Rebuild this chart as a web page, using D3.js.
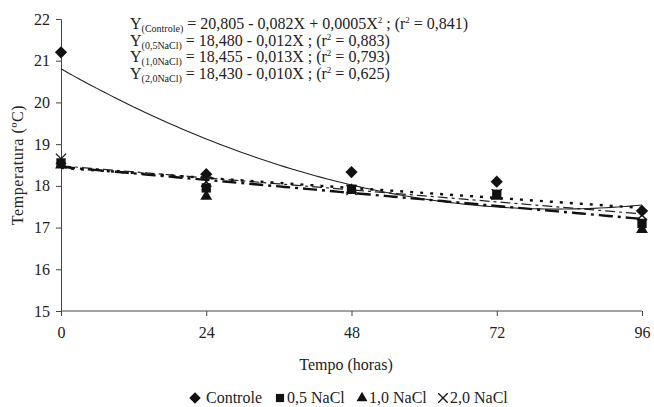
<!DOCTYPE html>
<html>
<head>
<meta charset="utf-8">
<script src="https://cdn.jsdelivr.net/npm/d3@7"></script>
<style>
  body { margin: 0; background: #fff; }
  svg text { font-family: "Liberation Serif", "Times New Roman", serif !important; fill: #222; }
</style>
</head>
<body>
<script>
// tempo (horas)
var hours = [0, 24, 48, 72, 96];
var controle = [21.2, 18.28, 18.33, 18.1, 17.4];
var nacl05 = [18.55, 17.95, 17.92, 17.8, 17.1];
var nacl10 = [18.5, 17.75, 17.9, 17.75, 16.95];
var nacl20 = [18.65, 18.1, 17.9, 17.8, 17.3];
var yTicks = [15, 16, 17, 18, 19, 20, 21, 22];
// coeficientes das regressoes (a + bX + cX^2)
var coefControle = [20.805, -0.082, 0.0005];
var coef05 = [18.480, -0.012, 0];
var coef10 = [18.455, -0.013, 0];
var coef20 = [18.430, -0.010, 0];
var eqText = [
  ["(Controle)", " = 20,805 - 0,082X + 0,0005X", "2", " ; (r", "2", " = 0,841)"],
  ["(0,5NaCl)", " = 18,480 - 0,012X ; (r", "2", " = 0,883)"],
  ["(1,0NaCl)", " = 18,455 - 0,013X ; (r", "2", " = 0,793)"],
  ["(2,0NaCl)", " = 18,430 - 0,010X ; (r", "2", " = 0,625)"]
];
var legendNames = ["Controle", "0,5 NaCl", "1,0 NaCl", "2,0 NaCl"];

var width = 654, height = 407;
var svg = d3.select("body").append("svg")
  .attr("width", width).attr("height", height);

var x = d3.scaleLinear().domain([0, 96]).range([61, 642]);
var y = d3.scaleLinear().domain([15, 22]).range([311, 19]);

// eixos
var yAxis = d3.axisLeft(y).tickValues(yTicks).tickFormat(d3.format("d")).tickSize(5).tickPadding(6);
var xAxis = d3.axisBottom(x).tickValues(hours).tickFormat(d3.format("d")).tickSize(5).tickPadding(11);

var gy = svg.append("g").attr("transform", "translate(61,0)").call(yAxis);
var gx = svg.append("g").attr("transform", "translate(0,311)").call(xAxis);
[gy, gx].forEach(function(g) {
  g.attr("font-family", null).attr("font-size", null);
  g.select(".domain").attr("stroke", "#444");
  g.selectAll(".tick line").attr("stroke", "#444");
  g.selectAll(".tick text").attr("font-size", 16).attr("fill", "#222");
});
gx.select(".domain").attr("d", "M61,0H642");

svg.append("text")
  .attr("transform", "translate(23,165) rotate(-90)")
  .attr("text-anchor", "middle")
  .attr("font-size", 16)
  .attr("letter-spacing", 0.6)
  .text("Temperatura (ºC)");

svg.append("text")
  .attr("x", 346).attr("y", 370)
  .attr("text-anchor", "middle")
  .attr("font-size", 16)
  .text("Tempo (horas)");

// linhas de tendencia
function trend(c) {
  return d3.range(0, 96.5, 1).map(function(t) {
    return [t, c[0] + c[1] * t + c[2] * t * t];
  });
}
var line = d3.line().x(function(d) { return x(d[0]); }).y(function(d) { return y(d[1]); });

svg.append("path").datum(trend(coefControle)).attr("d", line)
  .attr("fill", "none").attr("stroke", "#222").attr("stroke-width", 1.1);
svg.append("path").datum(trend(coef05)).attr("d", line)
  .attr("fill", "none").attr("stroke", "#222").attr("stroke-width", 1.2)
  .attr("stroke-dasharray", "10,4,3,4");
svg.append("path").datum(trend(coef10)).attr("d", line)
  .attr("fill", "none").attr("stroke", "#111").attr("stroke-width", 2.4)
  .attr("stroke-dasharray", "14,5,3,5");
svg.append("path").datum(trend(coef20)).attr("d", line)
  .attr("fill", "none").attr("stroke", "#111").attr("stroke-width", 2.4)
  .attr("stroke-dasharray", "3,7");

// pontos
function pts(vals) {
  return hours.map(function(h, i) { return [h, vals[i]]; });
}
var sym = [d3.symbolDiamond2, d3.symbolSquare2, d3.symbolTriangle2, d3.symbolTimes];
var sizes = [95, 110, 100, 70];
var series = [controle, nacl05, nacl10, nacl20];

// ordem de desenho: 2,0 por baixo
[3, 2, 1, 0].forEach(function(k) {
  svg.append("g").selectAll("path")
    .data(pts(series[k])).enter().append("path")
    .attr("transform", function(d) { return "translate(" + x(d[0]) + "," + y(d[1]) + ")"; })
    .attr("d", d3.symbol().type(sym[k]).size(sizes[k]))
    .attr("fill", k == 3 ? "none" : "#111")
    .attr("stroke", "#111")
    .attr("stroke-width", k == 3 ? 1.3 : 0);
});

// equacoes
var eq = svg.append("g");
eqText.forEach(function(parts, i) {
  var t = eq.append("text").attr("x", 130).attr("y", 29 + i * 16.7).attr("font-size", 16);
  t.append("tspan").text("Y");
  t.append("tspan").attr("font-size", 10).attr("dy", 3).text(parts[0]);
  var up = false;
  parts.slice(1).forEach(function(p, j) {
    if (p === "2") {
      t.append("tspan").attr("font-size", 9).attr("dy", -6).text(p);
      up = true;
    } else {
      t.append("tspan").attr("dy", j === 0 ? -3 : (up ? 6 : 0)).text(p);
      up = false;
    }
  });
});

// legenda
var legX = [195, 280, 362, 443];
var leg = svg.append("g");
legendNames.forEach(function(n, k) {
  leg.append("path")
    .attr("transform", "translate(" + legX[k] + ",398)")
    .attr("d", d3.symbol().type(sym[k]).size(k == 3 ? 60 : 85))
    .attr("fill", k == 3 ? "none" : "#111")
    .attr("stroke", "#111")
    .attr("stroke-width", k == 3 ? 1.3 : 0);
  leg.append("text")
    .attr("x", legX[k] + (k == 0 ? 11 : 7)).attr("y", 403)
    .attr("font-size", 16)
    .text(n);
});
</script>
</body>
</html>
